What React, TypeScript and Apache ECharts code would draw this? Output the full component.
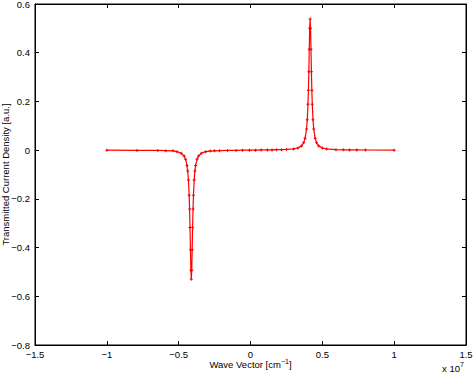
import React, { useEffect, useRef } from "react";
import * as echarts from "echarts";

// Wave vector (units of 1e7 cm^-1)
const waveVector = [
  -1.0, -0.79, -0.645, -0.59, -0.54, -0.512, -0.482, -0.462, -0.452, -0.442,
  -0.437, -0.432, -0.427, -0.424, -0.421, -0.418, -0.415, -0.412, -0.409, -0.406,
  -0.403, -0.4, -0.397, -0.392, -0.387, -0.382, -0.372, -0.362, -0.342, -0.312,
  -0.28, -0.25, -0.215, -0.16, -0.1, -0.055, -0.007, 0.035, 0.074, 0.118,
  0.15, 0.18, 0.216, 0.25, 0.3, 0.33, 0.355, 0.37, 0.38, 0.39,
  0.395, 0.4, 0.403, 0.406, 0.409, 0.412, 0.415, 0.418, 0.421, 0.424,
  0.427, 0.43, 0.435, 0.44, 0.45, 0.46, 0.475, 0.5, 0.53, 0.595,
  0.646, 0.69, 0.74, 0.8, 1.0,
];

// Transmitted current density (a.u.)
const currentDensity = [
  0.0, -0.001, -0.001, -0.002, -0.003, -0.0063, -0.0128, -0.0245, -0.0373, -0.0628,
  -0.0859, -0.123, -0.185, -0.242, -0.3176, -0.4085, -0.493, -0.53, -0.493, -0.4085,
  -0.3176, -0.242, -0.185, -0.123, -0.0859, -0.0628, -0.0373, -0.0245, -0.0128, -0.0063,
  -0.004, -0.003, -0.002, -0.001, -0.001, 0.0, 0.0, 0.0, 0.001, 0.001,
  0.001, 0.002, 0.002, 0.003, 0.0049, 0.0089, 0.0175, 0.0304, 0.0485, 0.0872,
  0.1249, 0.188, 0.2457, 0.322, 0.4146, 0.5007, 0.538, 0.5007, 0.4146, 0.322,
  0.2457, 0.188, 0.1249, 0.0872, 0.0485, 0.0304, 0.0175, 0.0089, 0.0049, 0.002,
  0.0015, 0.001, 0.001, 0.0005, 0.0,
];

const xTicks = { min: -1.5, max: 1.5, interval: 0.5 };
const yTicks = { min: -0.8, max: 0.6, interval: 0.2 };

const FONT = "Liberation Sans";

const fmt = (v: number) => {
  const r = Math.round(v * 10) / 10;
  if (r === 0) return "0";
  return String(r).replace("-", "\u2212");
};

export default function App() {
  const ref = useRef<HTMLDivElement>(null);
  useEffect(() => {
    if (!ref.current) return;
    const chart = echarts.init(ref.current, null, { renderer: "svg" });
    const data = waveVector.map((x, i) => [x, currentDensity[i]]);
    const axisCommon = {
      axisLine: { show: true, onZero: false, lineStyle: { color: "#000", width: 1 } },
      axisTick: { show: true, inside: true, length: 4, lineStyle: { color: "#000" } },
      splitLine: { show: false },
    };
    chart.setOption({
      animation: false,
      backgroundColor: "#fff",
      grid: {
        left: 35, right: 8, top: 4, bottom: 28,
        containLabel: false,
        outerBoundsMode: "none",
        show: true, borderColor: "#000", borderWidth: 1, backgroundColor: "#fff",
      },
      xAxis: [
        {
          type: "value",
          ...xTicks,
          ...axisCommon,
          position: "bottom",
          axisLabel: { color: "#000", fontFamily: FONT, fontSize: 9.5, margin: 4, formatter: fmt },
          name: "{a|Wave Vector [cm}{s|\u22121}{a|]}",
          nameLocation: "middle",
          nameGap: 13,
          nameMoveOverlap: false,
          nameTextStyle: {
            rich: {
              a: { fontFamily: FONT, fontSize: 9.5, color: "#000" },
              s: { fontFamily: FONT, fontSize: 7, color: "#000", verticalAlign: "top", padding: [0, 0, 6, 0] },
            },
          },
        },
        {
          type: "value",
          ...xTicks,
          ...axisCommon,
          position: "top",
          axisLabel: { show: false },
        },
      ],
      yAxis: [
        {
          type: "value",
          ...yTicks,
          ...axisCommon,
          position: "left",
          axisLabel: { color: "#000", fontFamily: FONT, fontSize: 9.5, margin: 5, formatter: fmt },
          name: "Transmitted Current Density [a.u.]",
          nameLocation: "middle",
          nameGap: 25,
          nameMoveOverlap: false,
          nameTextStyle: { fontFamily: FONT, fontSize: 9.5, color: "#000" },
        },
        {
          type: "value",
          ...yTicks,
          ...axisCommon,
          position: "right",
          axisLabel: { show: false },
        },
      ],
      graphic: [
        {
          type: "text",
          left: 442,
          top: 361,
          style: {
            text: "{a|x 10}{s|7}",
            rich: {
              a: { fontFamily: FONT, fontSize: 9.5, fill: "#000" },
              s: { fontFamily: FONT, fontSize: 7, fill: "#000", padding: [0, 0, 7, 0] },
            },
          },
        },
      ],
      series: [
        {
          type: "line",
          data,
          xAxisIndex: 0,
          yAxisIndex: 0,
          lineStyle: { color: "#ff0000", width: 1.2 },
          itemStyle: { color: "#ff0000" },
          symbol: "path://M1,0H2V1H3V2H2V3H1V2H0V1H1Z",
          symbolSize: 3,
          showSymbol: true,
          showAllSymbol: true,
        },
      ],
    });
    return () => chart.dispose();
  }, []);
  return (
    <div
      ref={ref}
      style={{ position: "fixed", left: 0, top: 0, width: 474, height: 373 }}
    />
  );
}
